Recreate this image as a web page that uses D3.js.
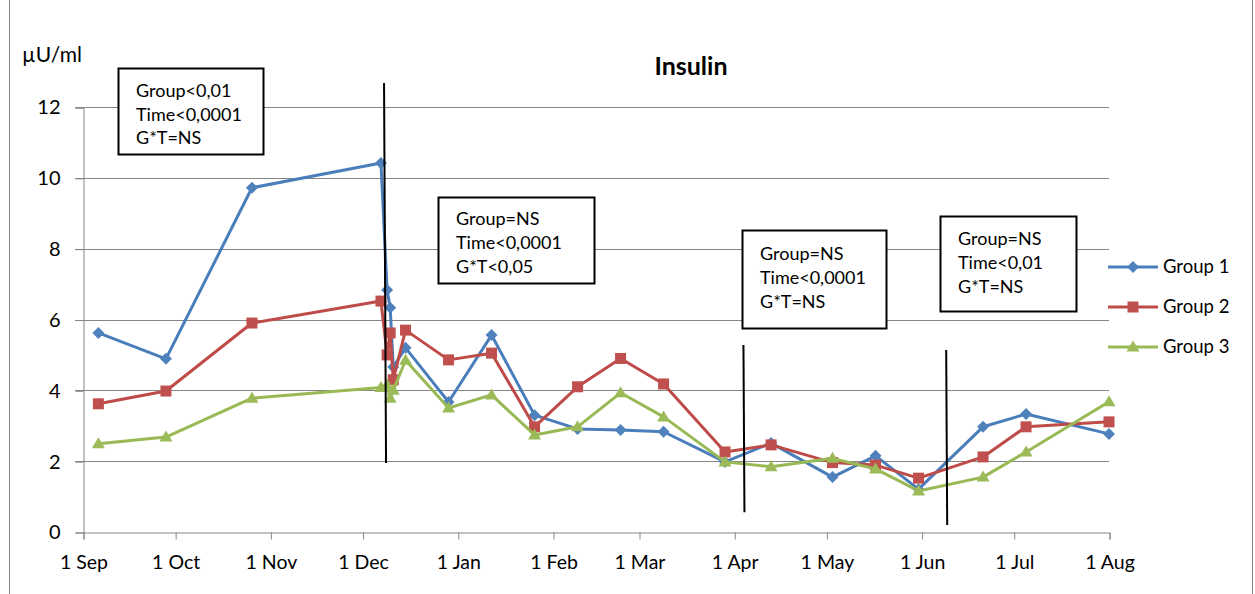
<!DOCTYPE html>
<html>
<head>
<meta charset="utf-8">
<script src="https://cdn.jsdelivr.net/npm/d3@7"></script>
<style>
  body { margin: 0; background: #fff; }
  text { font-family: Lato, "Open Sans", sans-serif; fill: #000; }
</style>
</head>
<body>
<svg id="chart" width="1255" height="594"></svg>
<script>
// sample dates (one per measurement)
var sampleDates = ['2010-09-06', '2010-09-28', '2010-10-26', '2010-12-07', '2010-12-09', '2010-12-10',
  '2010-12-11', '2010-12-15', '2010-12-29', '2011-01-12', '2011-01-26', '2011-02-09', '2011-02-23',
  '2011-03-09', '2011-03-29', '2011-04-13', '2011-05-03', '2011-05-17', '2011-05-31', '2011-06-21',
  '2011-07-05', '2011-08-01'];

var group1 = [5.62, 4.89, 9.72, 10.42, 6.83, 6.33, 4.66, 5.2, 3.67, 5.56, 3.3, 2.91, 2.88, 2.83,
  1.98, 2.51, 1.55, 2.15, 1.21, 2.97, 3.33, 2.77];
var group2 = [3.62, 3.98, 5.9, 6.52, 5.0, 5.62, 4.3, 5.7, 4.86, 5.05, 2.97, 4.1, 4.9, 4.18,
  2.26, 2.46, 1.96, 1.89, 1.52, 2.12, 2.97, 3.11];
var group3 = [2.49, 2.68, 3.78, 4.08, 4.15, 3.78, 4.0, 4.85, 3.5, 3.87, 2.74, 2.97, 3.93, 3.25,
  1.98, 1.84, 2.08, 1.78, 1.16, 1.55, 2.26, 3.68];

var seriesNames = ['Group 1', 'Group 2', 'Group 3'];

var tickDates = ['2010-09-01', '2010-10-01', '2010-11-01', '2010-12-01', '2011-01-01', '2011-02-01',
  '2011-03-01', '2011-04-01', '2011-05-01', '2011-06-01', '2011-07-01', '2011-08-01'];
var yTicks = [0, 2, 4, 6, 8, 10, 12];

// vertical separators: date, top value, bottom value
var dividerDates = ['2010-12-08', '2011-04-04', '2011-06-09'];
var dividerTop = [12.68, 5.28, 5.14];
var dividerBottom = [1.95, 0.56, 0.2];

var statLines = [
  ['Group<0,01', 'Time<0,0001', 'G*T=NS'],
  ['Group=NS', 'Time<0,0001', 'G*T<0,05'],
  ['Group=NS', 'Time<0,0001', 'G*T=NS'],
  ['Group=NS', 'Time<0,01', 'G*T=NS']
];

var parse = d3.timeParse('%Y-%m-%d');
var fmt = d3.timeFormat('%-d %b');

var colors = ['#4F81BD', '#C0504D', '#9BBB59'];
var lineColors = ['#4A7EBB', '#BE4B48', '#98B954'];

var svg = d3.select('#chart');

// chart frame
svg.append('rect')
  .attr('x', 9.5).attr('y', -2).attr('width', 1243).attr('height', 600)
  .attr('fill', 'none').attr('stroke', '#868686').attr('stroke-width', 1);

var x = d3.scaleTime()
  .domain([parse('2010-09-01'), parse('2011-08-01')])
  .range([83, 1109]);
var y = d3.scaleLinear().domain([0, 12]).range([532, 107]);

// gridlines
svg.append('g').selectAll('line').data(yTicks.slice(1)).enter().append('line')
  .attr('x1', 75).attr('x2', 1109)
  .attr('y1', function(d) { return Math.round(y(d)) + 0.5; })
  .attr('y2', function(d) { return Math.round(y(d)) + 0.5; })
  .attr('stroke', '#868686').attr('stroke-width', 1);

// y axis
var yAxis = svg.append('g')
  .attr('transform', 'translate(83.5,0.5)')
  .call(d3.axisLeft(y).tickValues(yTicks).tickSize(8).tickPadding(15));
yAxis.select('.domain').attr('stroke', '#868686');
yAxis.selectAll('.tick line').attr('stroke', '#868686');
yAxis.selectAll('text').style('font-size', '20px').attr('fill', '#000');

// x axis
var xAxis = svg.append('g')
  .attr('transform', 'translate(0.5,' + (Math.round(y(0)) + 0.5) + ')')
  .call(d3.axisBottom(x).tickValues(tickDates.map(parse)).tickFormat(fmt).tickSize(7).tickPadding(16));
xAxis.select('.domain').attr('stroke', '#868686');
xAxis.selectAll('.tick line').attr('stroke', '#868686');
xAxis.selectAll('text').style('font-size', '19.5px').attr('fill', '#000');

// title and unit
svg.append('text').attr('x', 691).attr('y', 75).attr('text-anchor', 'middle')
  .style('font-size', '25px').style('font-weight', 'bold').text('Insulin');
svg.append('text').attr('x', 22).attr('y', 62).style('font-size', '21px').text('\u00b5U/ml');

// series
var markers = [
  'M0,-6L6,0L0,6L-6,0Z',
  'M-5.5,-5.5L5.5,-5.5L5.5,5.5L-5.5,5.5Z',
  'M0,-6.5L6.5,4.5L-6.5,4.5Z'
];
var allSeries = [group1, group2, group3];

var line = d3.line()
  .x(function(d) { return x(d.date); })
  .y(function(d) { return y(d.value); });

allSeries.forEach(function(values, i) {
  var pts = values.map(function(v, j) { return { date: parse(sampleDates[j]), value: v }; });
  var g = svg.append('g').attr('class', 'series' + i);
  g.append('path').datum(pts)
    .attr('d', line).attr('fill', 'none')
    .attr('stroke', lineColors[i]).attr('stroke-width', 3).attr('stroke-linejoin', 'round');
  g.selectAll('path.marker').data(pts).enter().append('path')
    .attr('class', 'marker')
    .attr('d', markers[i])
    .attr('transform', function(d) { return 'translate(' + x(d.date) + ',' + y(d.value) + ')'; })
    .attr('fill', colors[i]);
});

// period dividers
svg.append('g').selectAll('line').data(dividerDates).enter().append('line')
  .attr('x1', function(d) { return x(parse(d)); })
  .attr('x2', function(d, i) { return x(parse(d)) + (i === 0 ? 2 : 1); })
  .attr('y1', function(d, i) { return y(dividerTop[i]); })
  .attr('y2', function(d, i) { return y(dividerBottom[i]); })
  .attr('stroke', '#000').attr('stroke-width', 2);

// stat boxes
var boxes = [
  { x: 118, y: 68, w: 145, h: 86, ty: 97, dy: 23.5 },
  { x: 438, y: 197, w: 156, h: 86, ty: 225, dy: 24 },
  { x: 742, y: 230, w: 144, h: 98, ty: 260, dy: 24 },
  { x: 940, y: 216, w: 136, h: 95, ty: 245, dy: 24 }
];
boxes.forEach(function(b, i) {
  var g = svg.append('g');
  g.append('rect').attr('x', b.x + 0.5).attr('y', b.y + 0.5).attr('width', b.w).attr('height', b.h)
    .attr('fill', '#fff').attr('stroke', '#000').attr('stroke-width', 2);
  g.selectAll('text').data(statLines[i]).enter().append('text')
    .attr('x', b.x + 18)
    .attr('y', function(d, k) { return b.ty + k * b.dy; })
    .style('font-size', '18px')
    .text(function(d) { return d; });
});

// legend
var legend = svg.append('g');
seriesNames.forEach(function(name, i) {
  var ly = 267 + i * 40;
  legend.append('line').attr('x1', 1108).attr('x2', 1158).attr('y1', ly).attr('y2', ly)
    .attr('stroke', lineColors[i]).attr('stroke-width', 3);
  legend.append('path').attr('d', markers[i])
    .attr('transform', 'translate(1133,' + ly + ')').attr('fill', colors[i]);
  legend.append('text').attr('x', 1163).attr('y', ly + 6).style('font-size', '18.5px').text(name);
});
</script>
</body>
</html>
